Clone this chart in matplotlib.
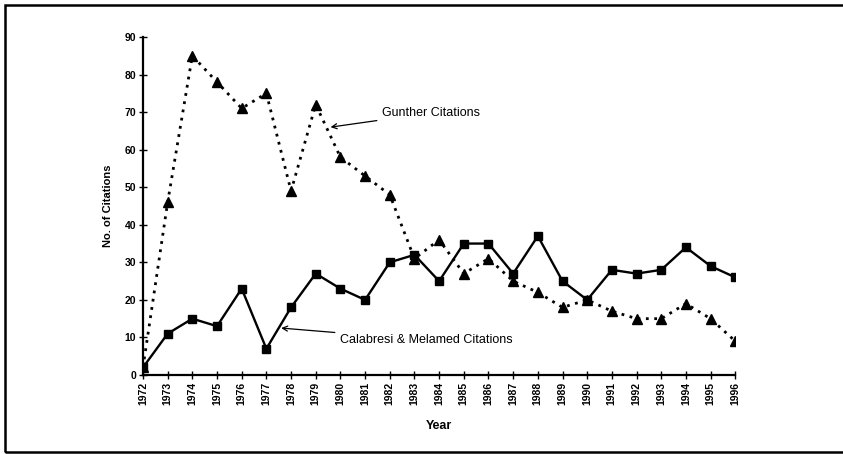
import matplotlib
matplotlib.use("Agg")
import matplotlib.pyplot as plt
from matplotlib.patches import Rectangle

plt.rcParams['font.family'] = ['Liberation Sans', 'DejaVu Sans']

# data
years = list(range(1972, 1997))
gunther = [2, 46, 85, 78, 71, 75, 49, 72, 58, 53, 48, 31, 36, 27, 31,
           25, 22, 18, 20, 17, 15, 15, 19, 15, 9]
calabresi = [2, 11, 15, 13, 23, 7, 18, 27, 23, 20, 30, 32, 25, 35, 35,
             27, 37, 25, 20, 28, 27, 28, 34, 29, 26]
y_ticks = list(range(0, 100, 10))

fig = plt.figure(figsize=(8.43, 4.54), dpi=100)
ax = fig.add_axes([0.1696, 0.174, 0.7026, 0.7445])

ax.plot(years, gunther, color='black', linestyle=(0, (1, 2)), linewidth=2.0,
        marker='^', markersize=6.5, zorder=3)
ax.plot(years, calabresi, color='black', linestyle='-', linewidth=1.7,
        marker='s', markersize=5.5, zorder=4)

ax.set_xlim(1972, 1996)
ax.set_ylim(0, 90)
ax.set_xticks(years)
ax.set_xticklabels([str(y) for y in years], rotation=90, fontsize=7.5, fontweight='bold')
ax.set_yticks(y_ticks)
ax.set_yticklabels([str(v) for v in y_ticks], fontsize=7.5, fontweight='bold')
ax.tick_params(direction='inout', length=6, width=1, pad=2, colors='black')

for side in ['top', 'right']:
    ax.spines[side].set_visible(False)
ax.spines['left'].set_linewidth(1.6)
ax.spines['bottom'].set_linewidth(1.6)

ax.set_ylabel('No. of Citations', fontsize=8, fontweight='bold', labelpad=8)
ax.set_xlabel('Year', fontsize=9, fontweight='bold', labelpad=11)

# callouts
ax.annotate('Gunther Citations', xy=(1979.6, 66), xytext=(1981.7, 69.8),
            fontsize=9, va='center', ha='left',
            arrowprops=dict(arrowstyle='->', color='black', lw=0.9,
                            shrinkA=2, shrinkB=0))
ax.annotate('Calabresi & Melamed Citations', xy=(1977.6, 12.5), xytext=(1980.0, 9.3),
            fontsize=9, va='center', ha='left',
            arrowprops=dict(arrowstyle='->', color='black', lw=0.9,
                            shrinkA=2, shrinkB=0))

# scanned page frame
fig.patches.append(Rectangle((0.006, 0.0045), 1.1, 0.984, transform=fig.transFigure,
                             fill=False, edgecolor='black', linewidth=1.8))

fig.savefig('out.png', dpi=100)
